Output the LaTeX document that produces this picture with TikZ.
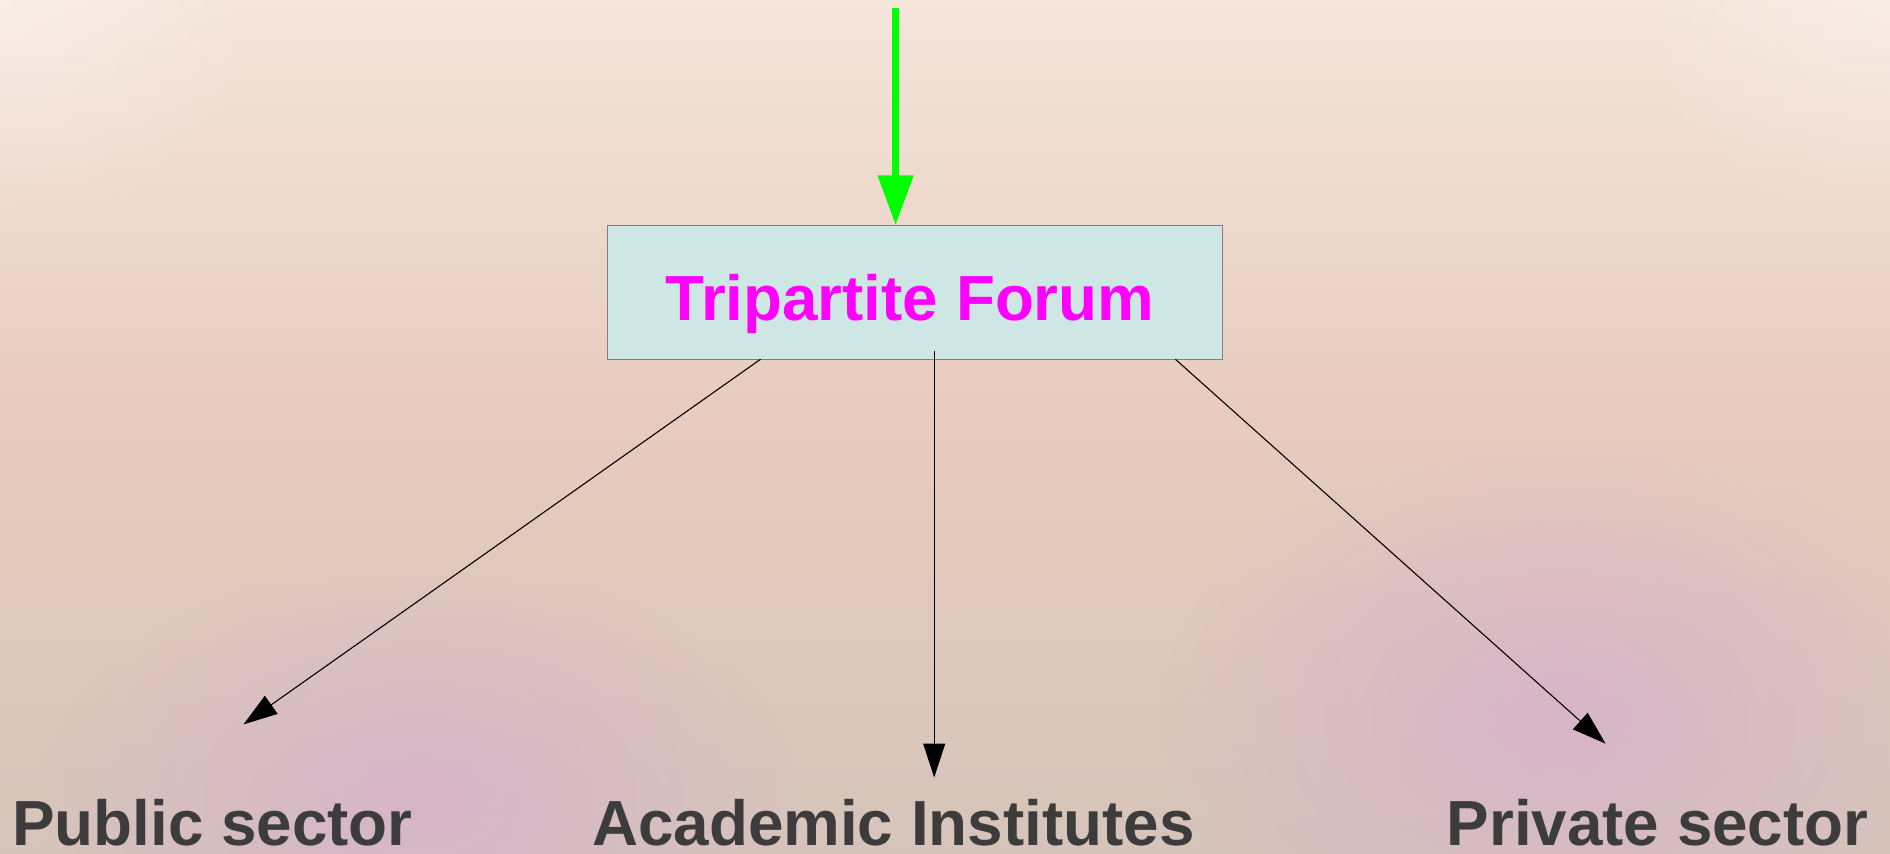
\documentclass[tikz,border=0pt]{standalone}
\usepackage{fontspec}
\setmainfont{Liberation Sans}
\usetikzlibrary{arrows.meta,fadings}
\definecolor{bgtop}{HTML}{F5E5DB}
\definecolor{bgmid}{HTML}{E7CBBD}
\definecolor{bgbot}{HTML}{D6C4BA}
\definecolor{blob}{HTML}{D6B2CC}
\definecolor{boxfill}{HTML}{CFE7E4}
\definecolor{boxline}{HTML}{808080}
\definecolor{magentatext}{HTML}{FF00FF}
\definecolor{labeltext}{HTML}{3C3C3C}
\definecolor{greenarrow}{HTML}{00FF00}
\tikzfading[name=softblob, inner color=transparent!0, outer color=transparent!100]
\tikzset{
  forumbox/.style={draw=boxline, line width=1bp, fill=boxfill, minimum width=615bp, minimum height=134bp, inner sep=0pt},
  forumtext/.style={text=magentatext, font=\fontsize{64}{72}\selectfont\bfseries, inner sep=0pt, anchor=base},
  sectorlabel/.style={text=labeltext, font=\fontsize{64}{72}\selectfont\bfseries, inner sep=0pt, text depth=0pt, anchor=base west},
  linkarrow/.style={draw=black, line width=1.1bp, -{Triangle[length=34bp,width=22bp]}},
  inarrow/.style={draw=greenarrow, line width=7.5bp, -{Triangle[length=50bp,width=34bp]}}
}
\begin{document}
\begin{tikzpicture}[x=1bp,y=-1bp]
  \useasboundingbox (0,0) rectangle (1890,854);
  \shade[top color=bgtop, bottom color=bgbot, middle color=bgmid] (0,0) rectangle (1890,854);
  \fill[white, opacity=0.35, path fading=softblob] (0,0) ellipse (260 and 240);
  \fill[white, opacity=0.30, path fading=softblob] (1890,0) ellipse (260 and 240);
  \fill[blob, opacity=0.85, path fading=softblob] (420,800) ellipse (380 and 240);
  \fill[blob, opacity=0.85, path fading=softblob] (1560,720) ellipse (400 and 280);
  % box
  \node[forumbox] (forum) at (915,292.3) {};
  \node[forumtext] (forumlabel) at (910,320.6) {Tripartite Forum};
  % incoming arrow
  \coordinate (src) at (895.6,8);
  \coordinate (srcend) at (895.6,225.4);
  \draw[inarrow] (src) -- (srcend);
  % labels
  \node[sectorlabel] (public) at (12,845.5) {Public sector};
  \node[sectorlabel] (academic) at (592,845.5) {Academic Institutes};
  \node[sectorlabel] (private) at (1446.5,845.5) {Private sector};
  % arrow endpoints
  \coordinate (lstart) at (760.6,359.2);
  \coordinate (ltip) at (243.5,724.4);
  \coordinate (mstart) at (934.2,350.8);
  \coordinate (mtip) at (934.2,777.5);
  \coordinate (rstart) at (1175.3,359.2);
  \coordinate (rtip) at (1605.6,743.7);
  \draw[linkarrow] (lstart) -- (ltip);
  \draw[linkarrow] (mstart) -- (mtip);
  \draw[linkarrow] (rstart) -- (rtip);
\end{tikzpicture}
\end{document}
